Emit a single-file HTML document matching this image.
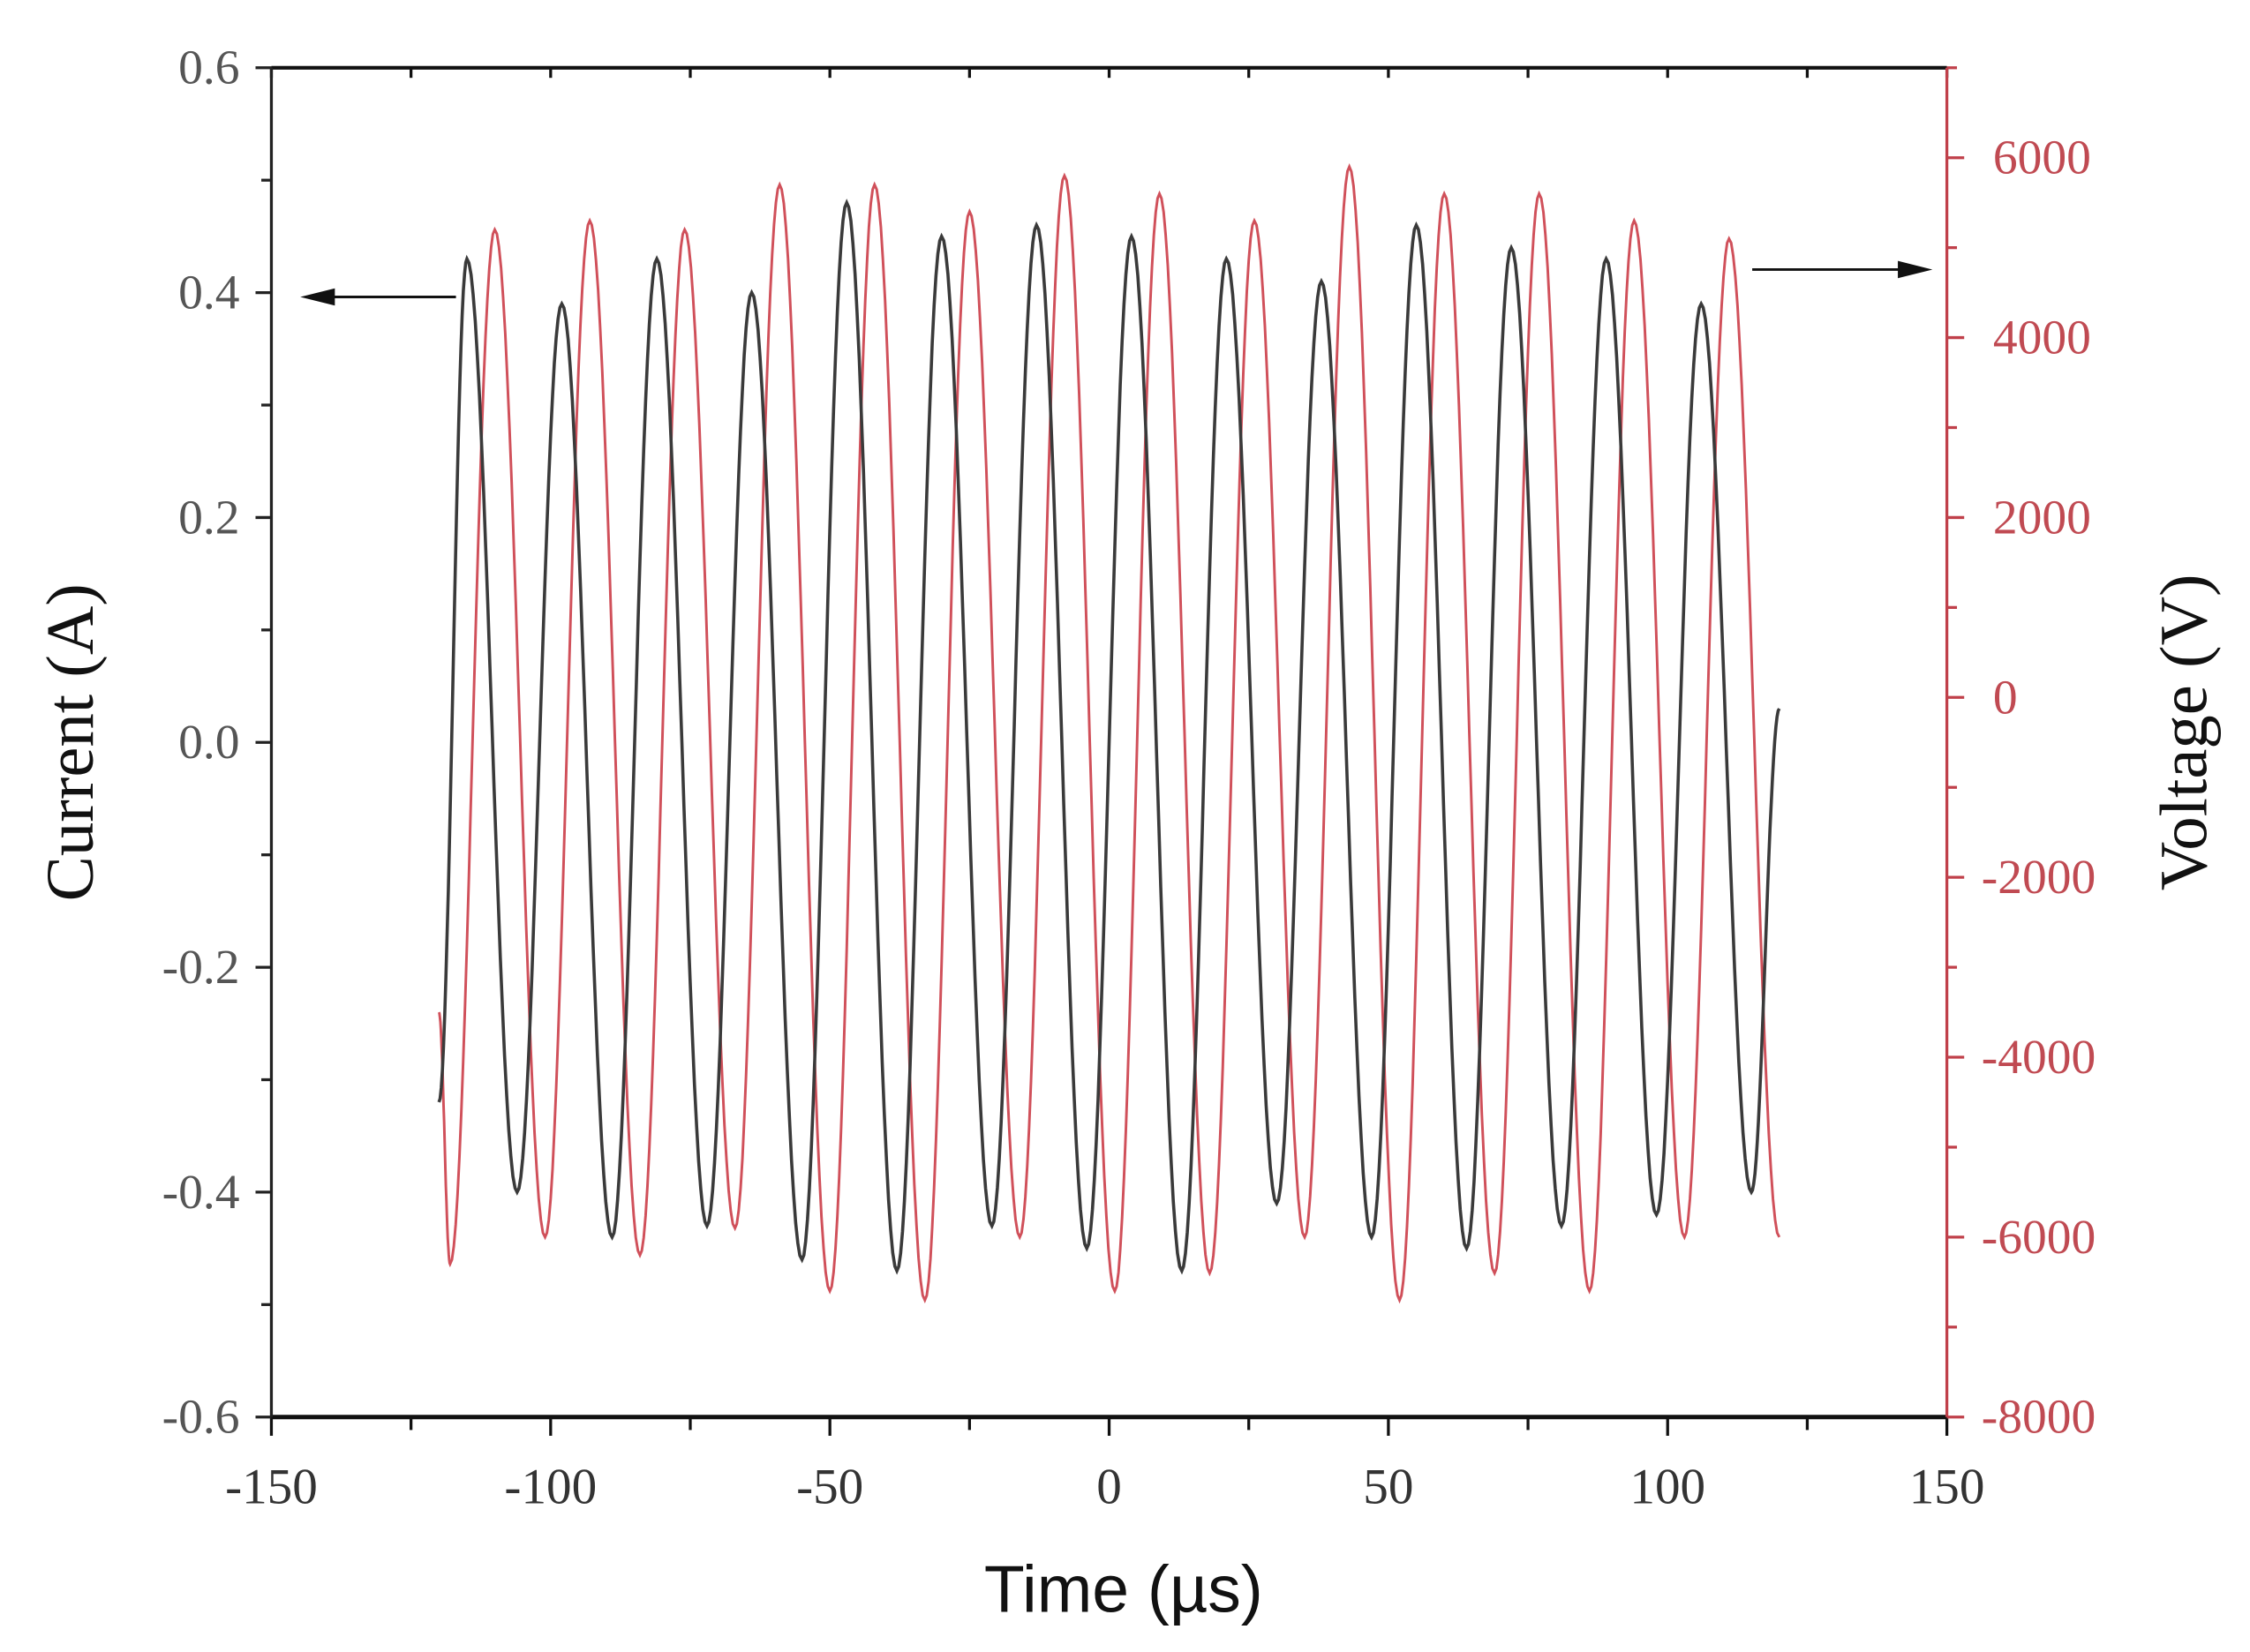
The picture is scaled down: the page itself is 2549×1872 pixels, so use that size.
<!DOCTYPE html>
<html><head><meta charset="utf-8"><style>
html,body{margin:0;padding:0;background:#fff;}
svg{display:block;}
</style></head><body>
<svg id="chart" width="2549" height="1872" viewBox="0 0 1560 1146" xmlns="http://www.w3.org/2000/svg">
<rect width="1560" height="1146" fill="#fff"/>
<g id="plot"></g>
</svg>
<script>
// Data: extrema of the waveforms (time in µs)
const currentPeakT = [-115,-98,-81,-64,-47,-30,-13,4,21,38,55,72,89,106];
const currentPeakV = [0.43,0.39,0.43,0.40,0.48,0.45,0.46,0.45,0.43,0.41,0.46,0.44,0.43,0.39];
const currentTroughT = [-106,-89,-72,-55,-38,-21,-4,13,30,47,64,81,98,115];
const currentTroughV = [-0.40,-0.44,-0.43,-0.46,-0.47,-0.43,-0.45,-0.47,-0.41,-0.44,-0.45,-0.43,-0.42,-0.40];
const currentStart = [-120,-0.32];
const currentEnd = [120,0.03];
const voltagePeakT = [-110,-93,-76,-59,-42,-25,-8,9,26,43,60,77,94,111];
const voltagePeakV = [5200,5300,5200,5700,5700,5400,5800,5600,5300,5900,5600,5600,5300,5100];
const voltageTroughT = [-118,-101,-84,-67,-50,-33,-16,1,18,35,52,69,86,103,120];
const voltageTroughV = [-6300,-6000,-6200,-5900,-6600,-6700,-6000,-6600,-6400,-6000,-6700,-6400,-6600,-6000,-6000];
const voltageStart = [-120,-3500];
const xTicks = [-150,-100,-50,0,50,100,150];
const yLeftTicks = [-0.6,-0.4,-0.2,0.0,0.2,0.4,0.6];
const yRightTicks = [-8000,-6000,-4000,-2000,0,2000,4000,6000];

const L=188,R=1350,T=47,B=983;
const xs=t=>L+(t+150)/300*(R-L);
const yl=v=>B-(v+0.6)/1.2*(B-T);
const yr=v=>B-(v+8000)/15000*(B-T);
const NS='http://www.w3.org/2000/svg';
const g=document.getElementById('plot');
function el(tag,attrs,parent){const e=document.createElementNS(NS,tag);for(const k in attrs)e.setAttribute(k,attrs[k]);(parent||g).appendChild(e);return e;}

function buildPoints(start,peaksT,peaksV,troT,troV,end){
  let ext=[start];
  for(let i=0;i<peaksT.length;i++)ext.push([peaksT[i],peaksV[i]]);
  for(let i=0;i<troT.length;i++)ext.push([troT[i],troV[i]]);
  if(end)ext.push(end);
  ext.sort((a,b)=>a[0]-b[0]);
  const pts=[];
  for(let i=0;i<ext.length-1;i++){
    const [t0,v0]=ext[i],[t1,v1]=ext[i+1];
    const n=24;
    for(let k=0;k<n;k++){const f=k/n;const w=(1-Math.cos(Math.PI*f))/2;pts.push([t0+(t1-t0)*f,v0+(v1-v0)*w]);}
  }
  pts.push(ext[ext.length-1]);
  return pts;
}
const ff='"Liberation Serif", serif';
const topAxis=el('line',{x1:L,y1:T,x2:R,y2:T,stroke:'#111','stroke-width':2.5});


for(let t=-150;t<=150;t+=25){const tk=el('line',{x1:xs(t),y1:T,x2:xs(t),y2:T+7,stroke:'#111','stroke-width':2});

}
const bAxis=el('line',{x1:L,y1:B,x2:R,y2:B,stroke:'#111','stroke-width':3});


for(let t=-150;t<=150;t+=25){const major=t%50===0;const tk=el('line',{x1:xs(t),y1:B,x2:xs(t),y2:B+(major?13:9),stroke:'#111','stroke-width':2});

}
xTicks.forEach(t=>{const tx=el('text',{x:xs(t),y:B+60,'text-anchor':'middle','font-family':ff,'font-size':35,fill:'#333'});tx.textContent=String(t);

});
const lAxis=el('line',{x1:L,y1:T,x2:L,y2:B,stroke:'#222','stroke-width':2});


for(let i=0;i<=12;i++){const v=-0.6+i*0.1;const major=i%2===0;const tk=el('line',{x1:L,y1:yl(v),x2:L-(major?11:7),y2:yl(v),stroke:'#222','stroke-width':2});

}
yLeftTicks.forEach(v=>{const tx=el('text',{x:L-22,y:yl(v)+11,'text-anchor':'end','font-family':ff,'font-size':34,fill:'#555'});tx.textContent=v.toFixed(1);

});
const rAxis=el('line',{x1:R,y1:T,x2:R,y2:B,stroke:'#c0404a','stroke-width':2});


for(let v=-8000;v<=7000;v+=1000){const major=v%2000===0;const tk=el('line',{x1:R,y1:yr(v),x2:R+(major?12:7),y2:yr(v),stroke:'#c0404a','stroke-width':2});

}
yRightTicks.forEach(v=>{const tx=el('text',{x:v<0?R+24:R+32,y:yr(v)+11,'text-anchor':'start','font-family':ff,'font-size':34,fill:'#c04a52'});tx.textContent=String(v);

});
const vPts=buildPoints(voltageStart,voltagePeakT,voltagePeakV,voltageTroughT,voltageTroughV,null);
const vLine=el('polyline',{points:vPts.map(p=>xs(p[0]).toFixed(1)+','+yr(p[1]).toFixed(1)).join(' '),fill:'none',stroke:'#d0505a','stroke-width':1.8});


const cPts=buildPoints(currentStart,currentPeakT,currentPeakV,currentTroughT,currentTroughV,currentEnd);
const cLine=el('polyline',{points:cPts.map(p=>xs(p[0]).toFixed(1)+','+yl(p[1]).toFixed(1)).join(' '),fill:'none',stroke:'#3a3a3a','stroke-width':2.2});


const a1=el('line',{x1:316,y1:206,x2:222,y2:206,stroke:'#111','stroke-width':1.8});


const a1h=el('polygon',{points:'208,206 232,200 232,212',fill:'#111'});


const a2=el('line',{x1:1215,y1:187,x2:1326,y2:187,stroke:'#111','stroke-width':1.8});


const a2h=el('polygon',{points:'1340,187 1316,181 1316,193',fill:'#111'});


const xt=el('text',{x:(L+R)/2+10,y:1118,'text-anchor':'middle','font-family':'"Liberation Sans", sans-serif','font-size':46,fill:'#111'});xt.textContent='Time (\u00b5s)';


const ylt=el('text',{x:0,y:0,'text-anchor':'middle','font-family':ff,'font-size':47,fill:'#111',transform:'translate(64,515) rotate(-90)'});ylt.textContent='Current (A)';


const yrt=el('text',{x:0,y:0,'text-anchor':'middle','font-family':ff,'font-size':47,fill:'#111',transform:'translate(1530,508) rotate(-90)'});yrt.textContent='Voltage (V)';


</script>
</body></html>
